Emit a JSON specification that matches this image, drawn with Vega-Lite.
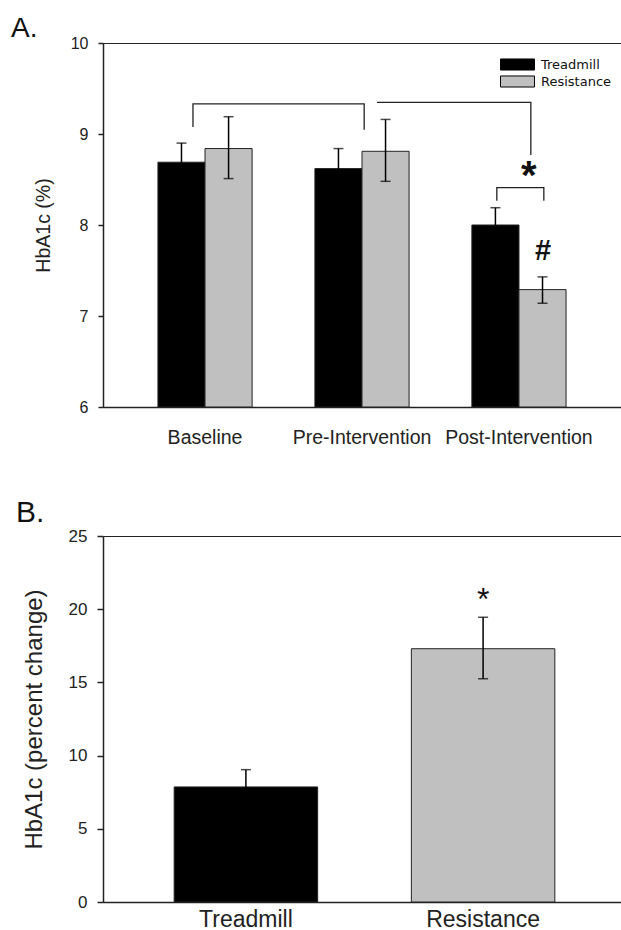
{
  "$schema": "https://vega.github.io/schema/vega-lite/v6.json",
  "background": "white",
  "padding": {"left": 10, "top": 14, "right": 0, "bottom": 0},
  "bounds": "full",
  "spacing": 50,
  "config": {
    "font": "Liberation Sans",
    "view": {"stroke": "#222", "strokeWidth": 1},
    "axis": {"domainColor": "#222", "domainWidth": 1.5, "tickColor": "#222", "tickWidth": 1.5, "labelColor": "#222", "titleColor": "#222", "grid": false, "labelFont": "Liberation Sans", "titleFont": "Liberation Sans", "titleFontWeight": "normal"},
    "title": {"font": "Liberation Sans", "fontWeight": "normal", "color": "#111", "anchor": "start", "frame": "group", "baseline": "alphabetic"}
  },
  "resolve": {"scale": {"color": "independent"}, "legend": {"color": "independent"}},
  "vconcat": [
    {
      "width": 518,
      "height": 364,
      "title": {"text": "A.", "dx": -92, "offset": -8, "fontSize": 28},
      "data": {"values": [
        {"phase": "Baseline", "group": "Treadmill", "mean": 8.69, "lo": 8.48, "hi": 8.90},
        {"phase": "Baseline", "group": "Resistance", "mean": 8.84, "lo": 8.51, "hi": 9.19},
        {"phase": "Pre-Intervention", "group": "Treadmill", "mean": 8.62, "lo": 8.40, "hi": 8.84},
        {"phase": "Pre-Intervention", "group": "Resistance", "mean": 8.81, "lo": 8.48, "hi": 9.16},
        {"phase": "Post-Intervention", "group": "Treadmill", "mean": 8.00, "lo": 7.81, "hi": 8.19},
        {"phase": "Post-Intervention", "group": "Resistance", "mean": 7.29, "lo": 7.14, "hi": 7.43}
      ]},
      "encoding": {
        "x": {"field": "phase", "type": "nominal", "title": null,
              "scale": {"domain": ["Baseline", "Pre-Intervention", "Post-Intervention"], "paddingInner": 0.4, "paddingOuter": 0.35},
              "axis": {"labelAngle": 0, "labelFontSize": 19.5, "ticks": false, "tickSize": 0, "labelPadding": 21}}
      },
      "resolve": {"scale": {"xOffset": "independent"}},
      "layer": [
        {
          "mark": {"type": "bar", "stroke": "#222", "strokeWidth": 1},
          "encoding": {
            "xOffset": {"field": "group", "type": "nominal", "scale": {"domain": ["Treadmill", "Resistance"], "paddingInner": 0, "paddingOuter": 0}},
            "y": {"field": "mean", "type": "quantitative", "title": "HbA1c (%)",
                  "scale": {"domain": [6, 10], "nice": false, "zero": false},
                  "axis": {"values": [6, 7, 8, 9, 10], "format": "d", "labelFontSize": 16, "tickSize": 5, "labelPadding": 10, "titleFontSize": 19.5, "titlePadding": 17}},
            "y2": {"datum": 6},
            "color": {"field": "group", "type": "nominal",
                      "scale": {"domain": ["Treadmill", "Resistance"], "range": ["#000000", "#c0c0c0"]},
                      "legend": {"orient": "none", "legendX": 408, "legendY": 15, "direction": "vertical", "title": null,
                                 "symbolType": "M-2.83,-0.92H2.83V0.92H-2.83Z", "symbolSize": 144,
                                 "symbolStrokeColor": "#000", "symbolStrokeWidth": 1, "symbolOpacity": 1,
                                 "labelFont": "DejaVu Sans", "labelFontSize": 13, "labelOffset": 17, "labelColor": "#111",
                                 "rowPadding": 0, "padding": 0}}
          }
        },
        {
          "mark": {"type": "rule", "color": "#000", "strokeWidth": 1.5},
          "encoding": {
            "xOffset": {"field": "group", "type": "nominal", "scale": {"domain": ["Treadmill", "Resistance"], "paddingInner": 0, "paddingOuter": 0}},
            "y": {"field": "lo", "type": "quantitative", "title": "HbA1c (%)", "scale": {"domain": [6, 10], "nice": false, "zero": false}},
            "y2": {"field": "hi"}
          }
        },
        {
          "mark": {"type": "tick", "color": "#000", "thickness": 1.5, "size": 10},
          "encoding": {
            "xOffset": {"field": "group", "type": "nominal", "scale": {"domain": ["Treadmill", "Resistance"], "paddingInner": 0, "paddingOuter": 0}},
            "y": {"field": "hi", "type": "quantitative", "title": "HbA1c (%)", "scale": {"domain": [6, 10], "nice": false, "zero": false}}
          }
        },
        {
          "mark": {"type": "tick", "color": "#000", "thickness": 1.5, "size": 10},
          "encoding": {
            "xOffset": {"field": "group", "type": "nominal", "scale": {"domain": ["Treadmill", "Resistance"], "paddingInner": 0, "paddingOuter": 0}},
            "y": {"field": "lo", "type": "quantitative", "title": "HbA1c (%)", "scale": {"domain": [6, 10], "nice": false, "zero": false}}
          }
        },
        {
          "data": {"values": [
            {"id": "a", "seq": 1, "phase": "Baseline", "frac": 0.372, "v": 9.077},
            {"id": "a", "seq": 2, "phase": "Baseline", "frac": 0.372, "v": 9.33},
            {"id": "a", "seq": 3, "phase": "Pre-Intervention", "frac": 0.523, "v": 9.33},
            {"id": "a", "seq": 4, "phase": "Pre-Intervention", "frac": 0.523, "v": 9.047},
            {"id": "b", "seq": 1, "phase": "Pre-Intervention", "frac": 0.66, "v": 9.348},
            {"id": "b", "seq": 2, "phase": "Post-Intervention", "frac": 0.626, "v": 9.348},
            {"id": "b", "seq": 3, "phase": "Post-Intervention", "frac": 0.626, "v": 8.769},
            {"id": "c", "seq": 1, "phase": "Post-Intervention", "frac": 0.265, "v": 8.267},
            {"id": "c", "seq": 2, "phase": "Post-Intervention", "frac": 0.265, "v": 8.41},
            {"id": "c", "seq": 3, "phase": "Post-Intervention", "frac": 0.764, "v": 8.41},
            {"id": "c", "seq": 4, "phase": "Post-Intervention", "frac": 0.764, "v": 8.267}
          ]},
          "mark": {"type": "line", "color": "#222", "strokeWidth": 1.3},
          "encoding": {
            "xOffset": {"field": "frac", "type": "quantitative", "scale": {"domain": [0, 1], "nice": false, "zero": false}},
            "y": {"field": "v", "type": "quantitative", "title": "HbA1c (%)", "scale": {"domain": [6, 10], "nice": false, "zero": false}},
            "detail": {"field": "id"},
            "order": {"field": "seq"}
          }
        },
        {
          "data": {"values": [
            {"phase": "Post-Intervention", "frac": 0.605, "v": 8.53, "label": "*"}
          ]},
          "mark": {"type": "text", "color": "#111", "fontWeight": "bold", "fontSize": 40, "baseline": "middle", "align": "center"},
          "encoding": {
            "xOffset": {"field": "frac", "type": "quantitative", "scale": {"domain": [0, 1], "nice": false, "zero": false}},
            "y": {"field": "v", "type": "quantitative", "title": "HbA1c (%)", "scale": {"domain": [6, 10], "nice": false, "zero": false}},
            "text": {"field": "label"}
          }
        },
        {
          "data": {"values": [
            {"phase": "Post-Intervention", "frac": 0.755, "v": 7.71, "label": "#"}
          ]},
          "mark": {"type": "text", "color": "#111", "fontWeight": "bold", "fontSize": 29, "baseline": "middle", "align": "center"},
          "encoding": {
            "xOffset": {"field": "frac", "type": "quantitative", "scale": {"domain": [0, 1], "nice": false, "zero": false}},
            "y": {"field": "v", "type": "quantitative", "title": "HbA1c (%)", "scale": {"domain": [6, 10], "nice": false, "zero": false}},
            "text": {"field": "label"}
          }
        }
      ]
    },
    {
      "width": 523,
      "height": 366,
      "title": {"text": "B.", "dx": -87, "offset": -1, "fontSize": 30},
      "data": {"values": [
        {"group": "Treadmill", "mean": 7.86, "lo": 6.68, "hi": 9.04},
        {"group": "Resistance", "mean": 17.3, "lo": 15.25, "hi": 19.45}
      ]},
      "encoding": {
        "x": {"field": "group", "type": "nominal", "title": null,
              "scale": {"domain": ["Treadmill", "Resistance"], "paddingInner": 0.395, "paddingOuter": 0.3},
              "axis": {"labelAngle": 0, "labelFontSize": 23, "ticks": false, "tickSize": 0, "labelPadding": 6}}
      },
      "layer": [
        {
          "mark": {"type": "bar", "stroke": "#222", "strokeWidth": 1},
          "encoding": {
            "y": {"field": "mean", "type": "quantitative", "title": "HbA1c (percent change)",
                  "scale": {"domain": [0, 25], "nice": false},
                  "axis": {"values": [0, 5, 10, 15, 20, 25], "format": "d", "labelFontSize": 17, "tickSize": 6, "labelPadding": 10, "titleFontSize": 24, "titlePadding": 21.5}},
            "color": {"field": "group", "type": "nominal", "scale": {"domain": ["Treadmill", "Resistance"], "range": ["#000000", "#c0c0c0"]}, "legend": null}
          }
        },
        {
          "mark": {"type": "rule", "color": "#000", "strokeWidth": 1.5},
          "encoding": {
            "y": {"field": "lo", "type": "quantitative", "title": "HbA1c (percent change)", "scale": {"domain": [0, 25], "nice": false}},
            "y2": {"field": "hi"}
          }
        },
        {
          "mark": {"type": "tick", "color": "#000", "thickness": 1.5, "size": 10},
          "encoding": {
            "y": {"field": "hi", "type": "quantitative", "title": "HbA1c (percent change)", "scale": {"domain": [0, 25], "nice": false}}
          }
        },
        {
          "mark": {"type": "tick", "color": "#000", "thickness": 1.5, "size": 10},
          "encoding": {
            "y": {"field": "lo", "type": "quantitative", "title": "HbA1c (percent change)", "scale": {"domain": [0, 25], "nice": false}}
          }
        },
        {
          "data": {"values": [{"group": "Resistance", "v": 20.6, "label": "*"}]},
          "mark": {"type": "text", "color": "#111", "fontSize": 32, "baseline": "middle", "align": "center"},
          "encoding": {
            "y": {"field": "v", "type": "quantitative", "title": "HbA1c (percent change)", "scale": {"domain": [0, 25], "nice": false}},
            "text": {"field": "label"}
          }
        }
      ]
    }
  ]
}
